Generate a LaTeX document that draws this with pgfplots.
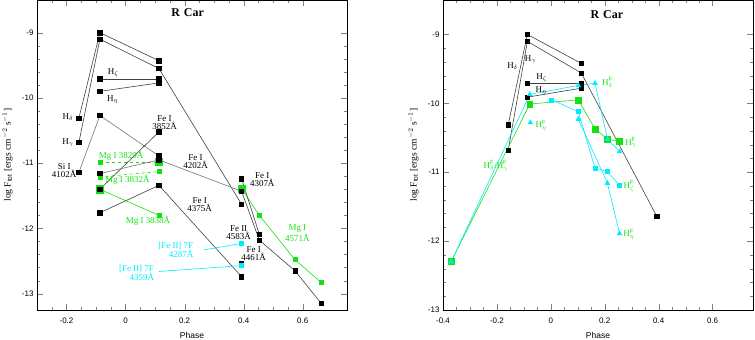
\documentclass[border=0pt]{standalone}
\usepackage{fontspec}
\setmainfont{Liberation Sans}
\newfontfamily\serif{Liberation Serif}
\usepackage{pgfplots}
\pgfplotsset{compat=1.18}
\definecolor{mgreen}{RGB}{20,225,20}
\definecolor{mcyan}{RGB}{0,235,255}

\tikzset{lab/.style={font=\serif\fontsize{9}{8}\selectfont, align=center, inner sep=0pt}}

\pgfplotsset{
  rcar/.style={
    scale only axis, width=310bp, height=310bp,
    tick align=inside,
    major tick length=6bp, minor tick length=3bp,
    tick label style={font=\fontsize{8}{9}\selectfont},
    /pgf/number format/assume math mode=true,
    xticklabel style={yshift=-4bp},
    xtick={-0.4,-0.2,0,0.2,0.4,0.6},
    ytick={-13,-12,-11,-10,-9},
    minor x tick num=3, minor y tick num=4,
    xlabel={Phase},
    xlabel style={font=\fontsize{8.5}{9}\selectfont, at={(axis description cs:0.5,-0.081)}, anchor=center},
    ylabel={\serif log F$_{\rm tot}$ [ergs cm$^{-2}$ s$^{-1}$]},
    ylabel style={font=\fontsize{9.5}{10}\selectfont, at={(axis description cs:-0.095,0.5)}, anchor=center},
    clip=false,
  },
  bl/.style={black!75, line width=0.6pt, mark=square*, mark size=2.2pt,
    mark options={solid, fill=black, draw=black}},
  gr/.style={mgreen, line width=0.6pt, mark=square*, mark size=2pt,
    mark options={solid, fill=mgreen, draw=mgreen}},
  grbig/.style={only marks, mark=square*, mark size=3.6pt,
    mark options={fill=mgreen, draw=mgreen}},
  cy/.style={mcyan, line width=0.6pt, mark=square*, mark size=2pt,
    mark options={solid, fill=mcyan, draw=mcyan}},
  cytri/.style={mcyan, line width=0.6pt, mark=triangle*, mark size=2.6pt,
    mark options={solid, fill=mcyan, draw=mcyan}},
}

\begin{document}
\begin{tikzpicture}
% ---------------- left panel: line fluxes ----------------
\begin{axis}[rcar, at={(0,0)}, anchor=south west,
  xmin=-0.3, xmax=0.75, ymin=-13.25, ymax=-8.5]

% big green squares under the black ones
\addplot[grbig] coordinates {(-0.087,-11.40)(0.113,-10.98)(0.393,-11.39)};

% Mg I lines
\addplot[gr, dashed] coordinates {(-0.087,-10.98)(0.113,-10.98)};
\addplot[gr, dashed] coordinates {(-0.087,-11.21)(0.113,-11.13)};
\addplot[gr] coordinates {(-0.087,-11.40)(0.113,-11.80)};
\addplot[gr] coordinates {(0.393,-11.39)(0.453,-11.80)(0.574,-12.48)(0.663,-12.83)};

% Balmer lines
\addplot[bl] coordinates {(-0.158,-10.31)(-0.087,-9.00)(0.113,-9.43)};
\addplot[bl] coordinates {(-0.158,-10.68)(-0.087,-9.10)(0.113,-9.55)(0.393,-11.63)};
\addplot[bl] coordinates {(-0.087,-9.71)(0.113,-9.71)};
\addplot[bl] coordinates {(-0.087,-9.90)(0.113,-9.77)};

% metal lines
\addplot[bl, black!55] coordinates {(-0.158,-11.14)(-0.087,-10.27)(0.113,-10.89)};
\addplot[bl] coordinates {(-0.087,-11.40)(0.113,-10.52)};
\addplot[bl, black!55] coordinates {(-0.087,-11.16)(0.113,-10.95)(0.393,-11.43)};
\addplot[bl] coordinates {(-0.087,-11.76)(0.113,-11.34)(0.393,-12.74)};
\addplot[bl] coordinates {(0.393,-11.24)(0.453,-12.09)};
\addplot[bl] coordinates {(0.393,-11.43)(0.453,-12.18)(0.574,-12.65)(0.663,-13.15)};
\addplot[bl, only marks] coordinates {(0.393,-12.53)(0.393,-12.23)};

% [Fe II] pointers
\addplot[cy, mark indices={2}] coordinates {(0.265,-12.33)(0.393,-12.23)};
\addplot[cy, mark indices={2}] coordinates {(0.113,-12.66)(0.393,-12.57)};

\node[font=\serif\bfseries\fontsize{12}{12}\selectfont] at (axis cs:0.21,-8.69) {R\,\,Car};
\node[lab] at (axis cs:-0.042,-9.61) {H$_\zeta$};
\node[lab] at (axis cs:-0.044,-10.02) {H$_\eta$};
\node[lab] at (axis cs:-0.195,-10.30) {H$_\delta$};
\node[lab] at (axis cs:-0.195,-10.69) {H$_\gamma$};
\node[lab] at (axis cs:0.132,-10.38) {Fe I\\3852Å};
\node[lab, text=mgreen] at (axis cs:-0.015,-10.88) {Mg I 3829Å};
\node[lab] at (axis cs:0.237,-10.98) {Fe I\\4202Å};
\node[lab] at (axis cs:-0.208,-11.12) {Si I\\4102Å};
\node[lab, text=mgreen] at (axis cs:0.006,-11.26) {Mg I 3832Å};
\node[lab] at (axis cs:0.251,-11.64) {Fe I\\4375Å};
\node[lab, text=mgreen] at (axis cs:0.076,-11.89) {Mg I 3838Å};
\node[lab, text=mcyan] at (axis cs:0.17,-12.33) {[Fe II] 7F\\\hspace*{1.2em}4287Å};
\node[lab, text=mcyan] at (axis cs:0.037,-12.68) {[Fe II] 7F\\\hspace*{1.2em}4359Å};
\node[lab] at (axis cs:0.463,-11.25) {Fe I\\4307Å};
\node[lab] at (axis cs:0.383,-12.07) {Fe II\\4583Å};
\node[lab] at (axis cs:0.434,-12.39) {Fe I\\4461Å};
\node[lab, text=mgreen] at (axis cs:0.582,-12.07) {Mg I\\4571Å};
\end{axis}

% ---------------- right panel: Balmer lines ----------------
\begin{axis}[rcar, at={(406bp,0)}, anchor=south west,
  xmin=-0.4, xmax=0.75, ymin=-13, ymax=-8.5]

\addplot[bl] coordinates {(-0.158,-10.31)(-0.087,-9.00)(0.113,-9.42)};
\addplot[bl] coordinates {(-0.158,-10.68)(-0.087,-9.10)(0.113,-9.56)(0.393,-11.64)};
\addplot[bl] coordinates {(-0.087,-9.71)(0.113,-9.71)};
\addplot[bl] coordinates {(-0.087,-9.91)(0.113,-9.78)};

% H gamma F (green squares)
\addplot[gr, mark size=3pt] coordinates {(-0.37,-12.30)(-0.078,-10.01)(0.102,-9.95)(0.164,-10.37)(0.21,-10.52)(0.255,-10.55)};
% H zeta F (cyan squares)
\addplot[cy] coordinates {(0.003,-9.95)(0.102,-10.12)(0.164,-10.94)(0.21,-10.99)(0.255,-11.19)};
% H delta F (cyan triangles)
\addplot[cytri] coordinates {(-0.37,-12.30)(-0.078,-9.87)(0.102,-9.74)(0.164,-9.71)(0.21,-10.52)(0.255,-10.70)};
% H eta F (cyan triangles)
\addplot[cytri, only marks] coordinates {(-0.076,-10.28)};
\addplot[cytri] coordinates {(0.102,-10.23)(0.21,-11.16)(0.255,-11.89)};

\node[font=\serif\bfseries\fontsize{12}{12}\selectfont] at (axis cs:0.208,-8.71) {R\,\,Car};
\node[lab] at (axis cs:-0.142,-9.46) {H$_\delta$};
\node[lab] at (axis cs:-0.075,-9.36) {H$_\gamma$};
\node[lab] at (axis cs:-0.034,-9.63) {H$_\zeta$};
\node[lab] at (axis cs:-0.036,-9.82) {H$_\eta$};
\node[lab, text=mgreen] at (axis cs:-0.036,-10.32) {H$^{\rm F}_\eta$};
\node[lab, text=mgreen] at (axis cs:0.21,-9.70) {H$^{\rm F}_\delta$};
\node[lab, text=mgreen] at (axis cs:0.297,-10.57) {H$^{\rm F}_\gamma$};
\node[lab, text=mgreen] at (axis cs:0.29,-11.20) {H$^{\rm F}_\zeta$};
\node[lab, text=mgreen] at (axis cs:0.29,-11.90) {H$^{\rm F}_\eta$};
\node[lab, text=mgreen] at (axis cs:-0.204,-10.91) {H$^{\rm F}_\delta$/H$^{\rm F}_\gamma$};
\end{axis}

\pgfresetboundingbox
\path (-37bp,-30bp) rectangle (718bp,310bp);
\end{tikzpicture}
\end{document}
